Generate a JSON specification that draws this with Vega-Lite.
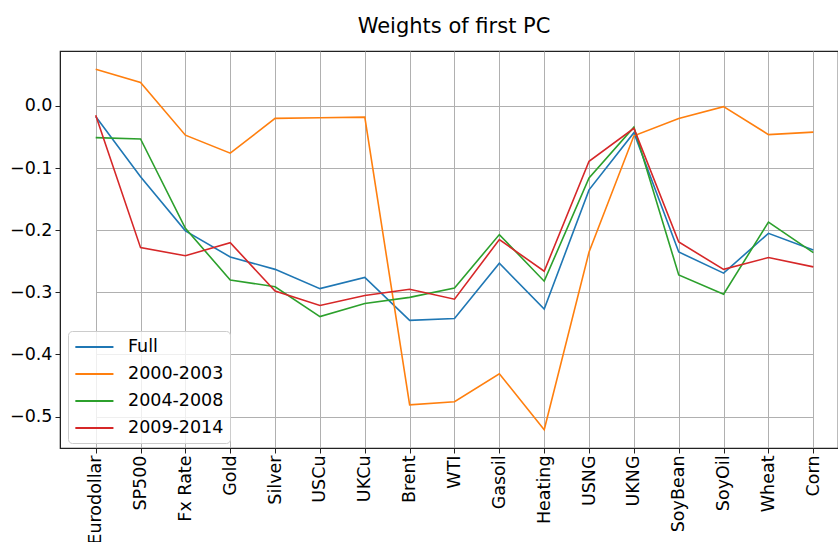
{
  "$schema": "https://vega.github.io/schema/vega-lite/v6.json",
  "autosize": "none",
  "padding": {"left": 60, "top": 51, "right": 0, "bottom": 94},
  "width": 778,
  "height": 397,
  "background": "white",
  "title": {"text": "Weights of first PC", "font": "DejaVu Sans", "fontSize": 21, "fontWeight": "normal", "color": "black", "anchor": "middle", "frame": "group", "dx": 5, "offset": 14},
  "config": {
    "view": {"stroke": "#222222", "strokeWidth": 1.2},
    "axis": {"labelFont": "DejaVu Sans", "labelFontSize": 17.5, "labelColor": "black", "domainColor": "#222222", "tickColor": "#222222", "tickSize": 5, "gridColor": "#b0b0b0", "gridWidth": 1, "title": null}
  },
  "data": {"values": [
    {"asset": "Eurodollar", "series": "Full", "value": -0.017},
    {"asset": "Eurodollar", "series": "2000-2003", "value": 0.059},
    {"asset": "Eurodollar", "series": "2004-2008", "value": -0.051},
    {"asset": "Eurodollar", "series": "2009-2014", "value": -0.015},
    {"asset": "SP500", "series": "Full", "value": -0.114},
    {"asset": "SP500", "series": "2000-2003", "value": 0.038},
    {"asset": "SP500", "series": "2004-2008", "value": -0.053},
    {"asset": "SP500", "series": "2009-2014", "value": -0.228},
    {"asset": "Fx Rate", "series": "Full", "value": -0.201},
    {"asset": "Fx Rate", "series": "2000-2003", "value": -0.047},
    {"asset": "Fx Rate", "series": "2004-2008", "value": -0.197},
    {"asset": "Fx Rate", "series": "2009-2014", "value": -0.241},
    {"asset": "Gold", "series": "Full", "value": -0.243},
    {"asset": "Gold", "series": "2000-2003", "value": -0.076},
    {"asset": "Gold", "series": "2004-2008", "value": -0.280},
    {"asset": "Gold", "series": "2009-2014", "value": -0.220},
    {"asset": "Silver", "series": "Full", "value": -0.263},
    {"asset": "Silver", "series": "2000-2003", "value": -0.020},
    {"asset": "Silver", "series": "2004-2008", "value": -0.291},
    {"asset": "Silver", "series": "2009-2014", "value": -0.298},
    {"asset": "USCu", "series": "Full", "value": -0.294},
    {"asset": "USCu", "series": "2000-2003", "value": -0.019},
    {"asset": "USCu", "series": "2004-2008", "value": -0.339},
    {"asset": "USCu", "series": "2009-2014", "value": -0.321},
    {"asset": "UKCu", "series": "Full", "value": -0.276},
    {"asset": "UKCu", "series": "2000-2003", "value": -0.018},
    {"asset": "UKCu", "series": "2004-2008", "value": -0.318},
    {"asset": "UKCu", "series": "2009-2014", "value": -0.305},
    {"asset": "Brent", "series": "Full", "value": -0.345},
    {"asset": "Brent", "series": "2000-2003", "value": -0.481},
    {"asset": "Brent", "series": "2004-2008", "value": -0.308},
    {"asset": "Brent", "series": "2009-2014", "value": -0.295},
    {"asset": "WTI", "series": "Full", "value": -0.342},
    {"asset": "WTI", "series": "2000-2003", "value": -0.476},
    {"asset": "WTI", "series": "2004-2008", "value": -0.293},
    {"asset": "WTI", "series": "2009-2014", "value": -0.311},
    {"asset": "Gasoil", "series": "Full", "value": -0.253},
    {"asset": "Gasoil", "series": "2000-2003", "value": -0.431},
    {"asset": "Gasoil", "series": "2004-2008", "value": -0.207},
    {"asset": "Gasoil", "series": "2009-2014", "value": -0.215},
    {"asset": "Heating", "series": "Full", "value": -0.327},
    {"asset": "Heating", "series": "2000-2003", "value": -0.521},
    {"asset": "Heating", "series": "2004-2008", "value": -0.282},
    {"asset": "Heating", "series": "2009-2014", "value": -0.266},
    {"asset": "USNG", "series": "Full", "value": -0.135},
    {"asset": "USNG", "series": "2000-2003", "value": -0.235},
    {"asset": "USNG", "series": "2004-2008", "value": -0.116},
    {"asset": "USNG", "series": "2009-2014", "value": -0.089},
    {"asset": "UKNG", "series": "Full", "value": -0.043},
    {"asset": "UKNG", "series": "2000-2003", "value": -0.048},
    {"asset": "UKNG", "series": "2004-2008", "value": -0.034},
    {"asset": "UKNG", "series": "2009-2014", "value": -0.036},
    {"asset": "SoyBean", "series": "Full", "value": -0.235},
    {"asset": "SoyBean", "series": "2000-2003", "value": -0.020},
    {"asset": "SoyBean", "series": "2004-2008", "value": -0.272},
    {"asset": "SoyBean", "series": "2009-2014", "value": -0.219},
    {"asset": "SoyOil", "series": "Full", "value": -0.269},
    {"asset": "SoyOil", "series": "2000-2003", "value": -0.001},
    {"asset": "SoyOil", "series": "2004-2008", "value": -0.303},
    {"asset": "SoyOil", "series": "2009-2014", "value": -0.263},
    {"asset": "Wheat", "series": "Full", "value": -0.205},
    {"asset": "Wheat", "series": "2000-2003", "value": -0.046},
    {"asset": "Wheat", "series": "2004-2008", "value": -0.187},
    {"asset": "Wheat", "series": "2009-2014", "value": -0.244},
    {"asset": "Corn", "series": "Full", "value": -0.232},
    {"asset": "Corn", "series": "2000-2003", "value": -0.042},
    {"asset": "Corn", "series": "2004-2008", "value": -0.236},
    {"asset": "Corn", "series": "2009-2014", "value": -0.259}
  ]},
  "mark": {"type": "line", "strokeWidth": 1.6},
  "encoding": {
    "x": {
      "field": "asset", "type": "ordinal",
      "scale": {"type": "point", "domain": ["Eurodollar","SP500","Fx Rate","Gold","Silver","USCu","UKCu","Brent","WTI","Gasoil","Heating","USNG","UKNG","SoyBean","SoyOil","Wheat","Corn"], "range": [35.7, 753.3], "padding": 0},
      "axis": {"labelAngle": -90, "labelPadding": 2, "grid": true, "domain": true}
    },
    "y": {
      "field": "value", "type": "quantitative",
      "scale": {"domain": [-0.5505, 0.0885], "nice": false, "zero": false},
      "axis": {"values": [-0.5, -0.4, -0.3, -0.2, -0.1, 0.0], "format": ".1f", "grid": true, "labelPadding": 3}
    },
    "color": {
      "field": "series", "type": "nominal",
      "scale": {"domain": ["Full","2000-2003","2004-2008","2009-2014"], "range": ["#1f77b4","#ff7f0e","#2ca02c","#d62728"]},
      "legend": {"title": null, "orient": "none", "legendX": 8, "legendY": 280, "symbolType": "M-1,0H3.4", "symbolSize": 300, "symbolStrokeWidth": 2, "labelFont": "DejaVu Sans", "labelFontSize": 17.5, "labelColor": "black", "fillColor": "rgba(255,255,255,0.8)", "strokeColor": "#cccccc", "cornerRadius": 4, "padding": 6, "rowPadding": 8, "labelOffset": 34}
    },
    "order": {"field": "series"}
  }
}
